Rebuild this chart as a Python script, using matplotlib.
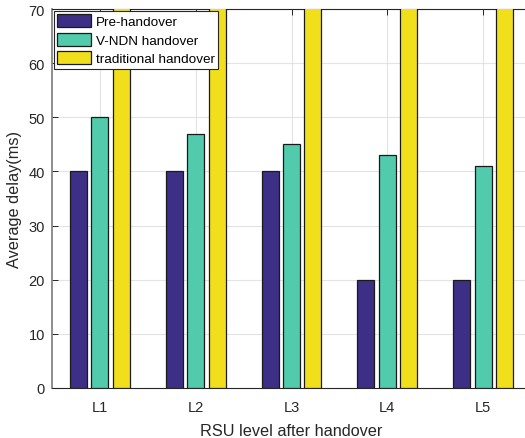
import numpy as np
import matplotlib
matplotlib.use("Agg")
import matplotlib.pyplot as plt

plt.rcParams['font.family'] = ['Liberation Sans', 'DejaVu Sans']

# data (traditional bars run past the top of the axes)
levels = ["L1", "L2", "L3", "L4", "L5"]
pre_handover = [40, 40, 40, 20, 20]
vndn_handover = [50, 47, 45, 43, 41]
traditional_handover = [85, 88, 90, 92, 95]

series_names = ["Pre-handover", "V-NDN handover", "traditional handover"]
colors = ["#3d2f86", "#52cbad", "#f0df1a"]

fig = plt.figure(figsize=(5.25, 4.39), dpi=100)
# axes runs past the right edge of the picture (cropped original)
ax = fig.add_axes([52 / 525, 1 - 389 / 439, 479 / 525, 379 / 439])

x = np.arange(1, len(levels) + 1)
w = 0.178
offs = [-0.224, 0, 0.224]
for vals, name, c, o in zip([pre_handover, vndn_handover, traditional_handover],
                            series_names, colors, offs):
    ax.bar(x + o, vals, width=w, color=c, edgecolor="#1a1a1a", linewidth=0.9,
           label=name, zorder=3)

ax.set_xlim(0.5, 5.5)
ax.set_ylim(0, 70)
ax.set_yticks(range(0, 71, 10))
ax.set_xticks(x)
ax.set_xticklabels(levels)
ax.grid(True, color="#e3e3e3", linewidth=0.8, zorder=0)
ax.tick_params(direction="in", length=4, labelsize=10.5, colors="#262626",
               top=True, right=True, width=0.7)
ax.tick_params(axis="x", pad=9)
ax.tick_params(axis="y", pad=5)
for s in ["top", "bottom"]:
    ax.spines[s].set_color("#262626")
ax.spines["left"].set_color("#7a7a7a")
ax.spines["left"].set_linewidth(1.2)

ax.set_xlabel("RSU level after handover", fontsize=11.7, color="#262626", labelpad=6)
ax.set_ylabel("Average delay(ms)", fontsize=11.7, color="#262626", labelpad=5)

leg = ax.legend(loc="upper left", fontsize=9.7, frameon=True, fancybox=False,
                framealpha=1, edgecolor="#262626", borderpad=0.25,
                handlelength=2.5, handleheight=1.1, labelspacing=0.32,
                handletextpad=0.35, borderaxespad=0.15)
leg.get_frame().set_linewidth(0.8)
leg.set_zorder(5)

fig.savefig("out.png", dpi=100)
